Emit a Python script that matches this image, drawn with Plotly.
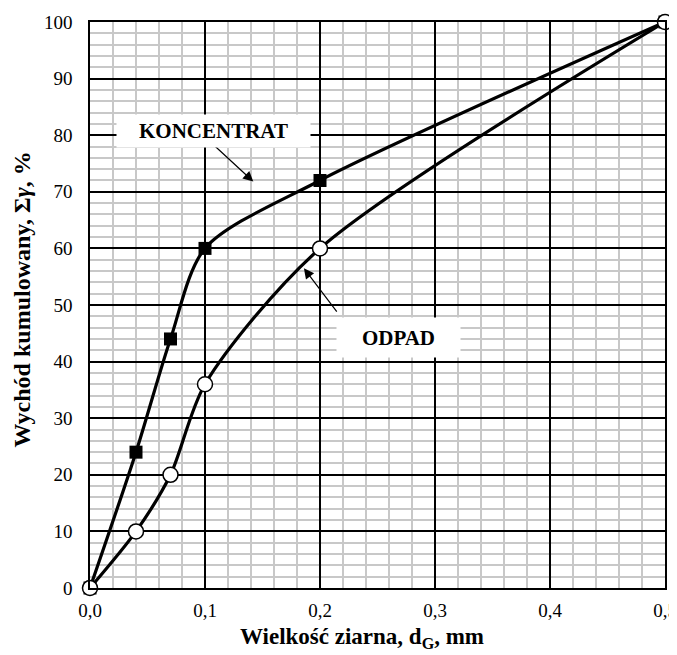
import plotly.graph_objects as go

x_konc = [0.0, 0.04, 0.07, 0.1, 0.2, 0.5]
y_konc = [0, 24, 44, 60, 72, 100]
x_odpad = [0.0, 0.04, 0.07, 0.1, 0.2, 0.5]
y_odpad = [0, 10, 20, 36, 60, 100]

x_ticks = [0.0, 0.1, 0.2, 0.3, 0.4, 0.5]
y_ticks = [0, 10, 20, 30, 40, 50, 60, 70, 80, 90, 100]

FONT = "Liberation Serif"

fig = go.Figure()
fig.add_trace(go.Scatter(
    x=x_konc, y=y_konc, mode="lines+markers", name="KONCENTRAT",
    line=dict(color="black", width=3.2, shape="spline", smoothing=0.8),
    marker=dict(symbol="square", size=13, color="black"),
    cliponaxis=False,
))
fig.add_trace(go.Scatter(
    x=x_odpad, y=y_odpad, mode="lines+markers", name="ODPAD",
    line=dict(color="black", width=3.2, shape="spline", smoothing=0.8),
    marker=dict(symbol="circle", size=15, color="white", line=dict(color="black", width=1.5)),
    cliponaxis=False,
))

# arrows (tail offsets in pixels relative to head)
fig.add_annotation(x=0.142, y=71.8, ax=-40, ay=-37, axref="pixel", ayref="pixel",
                   text="", showarrow=True, arrowhead=2, arrowsize=1.7, arrowwidth=1.2,
                   arrowcolor="black")
fig.add_annotation(x=0.186, y=56.5, ax=34, ay=45, axref="pixel", ayref="pixel",
                   text="", showarrow=True, arrowhead=2, arrowsize=1.7, arrowwidth=1.2,
                   arrowcolor="black")

fig.add_annotation(x=0.1074, y=80.7, xref="x", yref="y", text="<b>KONCENTRAT</b>",
                   showarrow=False, bgcolor="white", borderpad=0, width=193, height=32,
                   xanchor="center", yanchor="middle",
                   font=dict(family=FONT, size=21, color="black"))
fig.add_annotation(x=0.268, y=44.3, xref="x", yref="y", text="<b>ODPAD</b>",
                   showarrow=False, bgcolor="white", borderpad=0, width=123, height=39,
                   xanchor="center", yanchor="middle",
                   font=dict(family=FONT, size=21, color="black"))

# axis titles
fig.add_annotation(x=0.473, y=-0.088, xref="paper", yref="paper",
                   xanchor="center", yanchor="middle",
                   text="<b>Wielkość ziarna, d<sub>G</sub>, mm</b>", showarrow=False,
                   font=dict(family=FONT, size=23, color="black"))
fig.add_annotation(x=-0.118, y=0.51, xref="paper", yref="paper", textangle=-90,
                   xanchor="center", yanchor="middle",
                   text="<b>Wychód kumulowany, Σ<i>γ</i>, %</b>", showarrow=False,
                   font=dict(family=FONT, size=24, color="black"))

axis_common = dict(
    showline=True, linecolor="black", linewidth=1.5, mirror=True,
    showgrid=True, gridcolor="black", gridwidth=1.5,
    zeroline=False, ticks="", automargin=False,
    tickfont=dict(family=FONT, size=19, color="black"),
)

fig.update_xaxes(
    range=[0, 0.5], tickvals=x_ticks, tickformat=".1f", ticklabelstandoff=4,
    minor=dict(dtick=0.02, showgrid=True, gridcolor="#c8c8c8", gridwidth=1.5, ticks=""),
    **axis_common,
)
fig.update_yaxes(
    range=[0, 100], tickvals=y_ticks, ticklabelstandoff=12,
    minor=dict(dtick=2, showgrid=True, gridcolor="#c8c8c8", gridwidth=1.5, ticks=""),
    **axis_common,
)

# page body adds ~8px offset, so the figure is sized to fit the remaining window
fig.update_layout(
    width=669, height=647,
    margin=dict(l=82, r=12, t=14, b=67),
    paper_bgcolor="white", plot_bgcolor="white",
    showlegend=False, separators=",.",
)

fig.write_html("out.html")
